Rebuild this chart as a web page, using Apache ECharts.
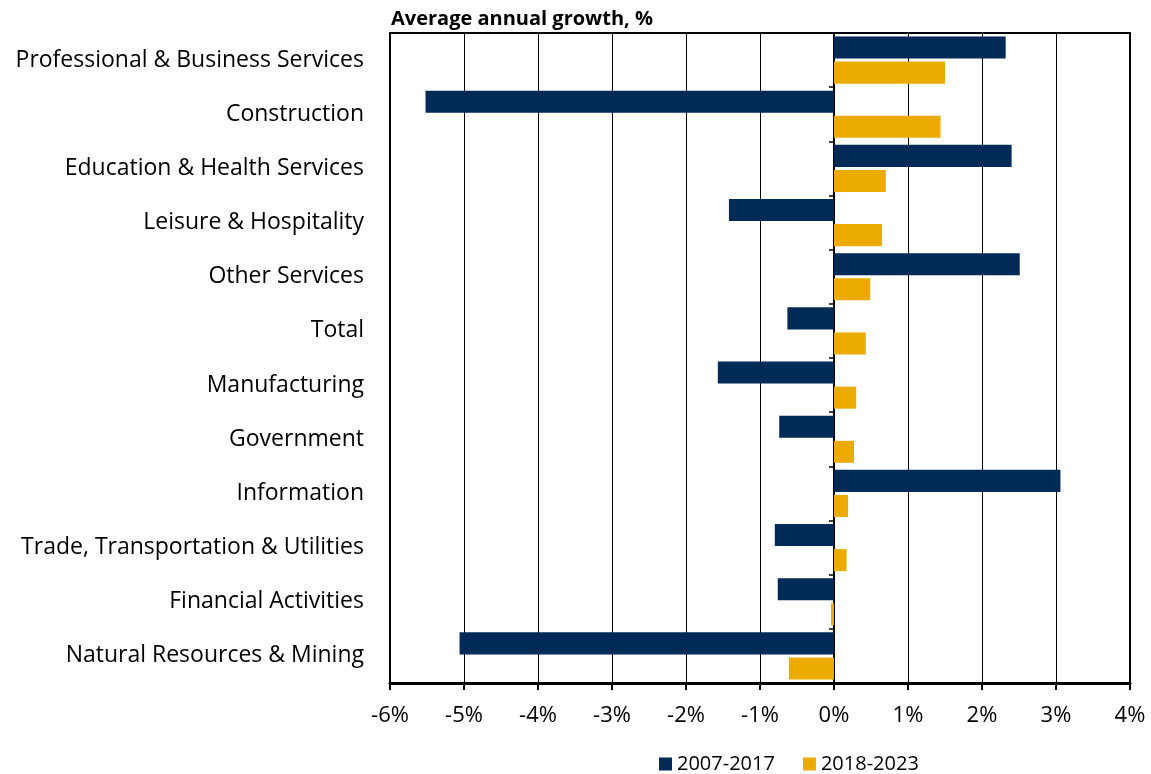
<!DOCTYPE html>
<html><head><meta charset="utf-8">
<script src="https://cdn.jsdelivr.net/npm/echarts@6/dist/echarts.min.js"></script>
<style>html,body{margin:0;padding:0;background:#fff}#c{width:1151px;height:774px}</style>
</head><body><div id="c"></div>
<script>
const categories = ["Professional & Business Services","Construction","Education & Health Services","Leisure & Hospitality","Other Services","Total","Manufacturing","Government","Information","Trade, Transportation & Utilities","Financial Activities","Natural Resources & Mining"];
const growth2007_2017 = [2.32,-5.52,2.40,-1.42,2.51,-0.63,-1.57,-0.74,3.06,-0.80,-0.76,-5.06];
const growth2018_2023 = [1.50,1.44,0.70,0.65,0.49,0.43,0.30,0.27,0.19,0.17,-0.04,-0.61];
const seriesNames = ["2007-2017","2018-2023"];
const FONT = "Open Sans";
const chart = echarts.init(document.getElementById('c'), null, {renderer:'canvas'});
chart.setOption({
  animation:false,
  textStyle:{fontFamily:FONT,color:'#000'},
  title:{text:'Average annual growth, %',left:386,top:4,textStyle:{fontFamily:FONT,fontWeight:'bold',fontSize:20,color:'#000'}},
  legend:{top:749,left:654,itemWidth:13,itemHeight:13,itemGap:28,icon:'rect',textStyle:{fontFamily:FONT,fontSize:20,color:'#000'},data:seriesNames},
  grid:{left:390,right:21,top:33,bottom:91,show:true,borderColor:'#000',borderWidth:2,containLabel:false},
  xAxis:{type:'value',min:-6,max:4,interval:1,
    axisLine:{show:true,lineStyle:{color:'#000',width:3}},
    axisTick:{show:true,length:7,lineStyle:{color:'#000',width:2}},
    axisLabel:{formatter:v=>v+'%',fontSize:22,margin:22,color:'#000',fontFamily:FONT},
    splitLine:{show:true,lineStyle:{color:'#000',width:1}}},
  yAxis:[
    {type:'category',data:categories,inverse:true,position:'left',
     axisLine:{show:false,onZero:false},axisTick:{show:false},
     axisLabel:{fontSize:23,margin:26,color:'#000',fontFamily:FONT,padding:[3,0,0,0]}},
    {type:'category',data:categories,inverse:true,position:'left',
     axisLine:{show:true,onZero:true,lineStyle:{color:'#000',width:2}},
     axisTick:{show:true,length:5,inside:false,lineStyle:{color:'#000',width:1.5}},
     axisLabel:{show:false}}
  ],
  series:[
    {name:seriesNames[0],type:'bar',data:growth2007_2017,yAxisIndex:0,itemStyle:{color:'#012A56'},barGap:'14%',barCategoryGap:'13%'},
    {name:seriesNames[1],type:'bar',data:growth2018_2023,yAxisIndex:0,itemStyle:{color:'#EBAB00'},barGap:'14%',barCategoryGap:'13%'}
  ]
});
</script></body></html>
